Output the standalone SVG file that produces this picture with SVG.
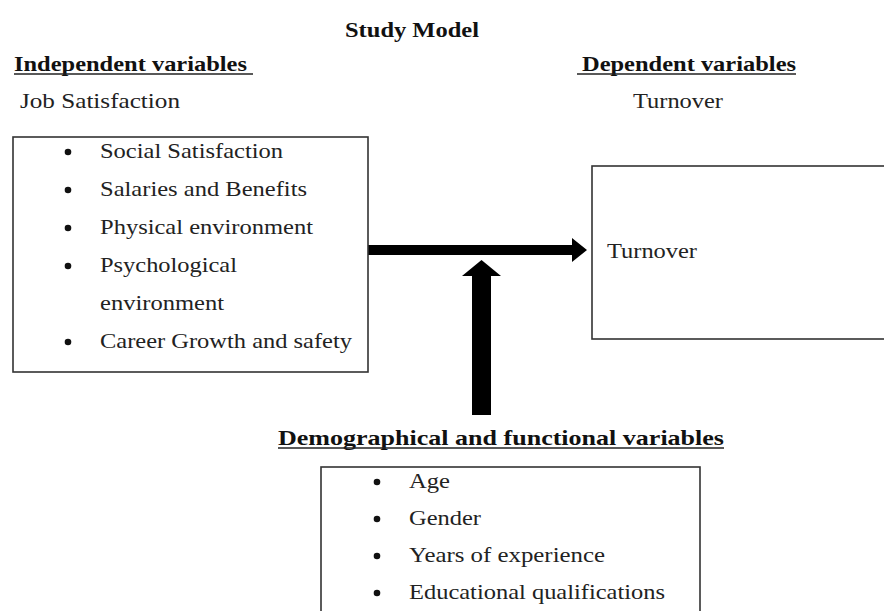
<svg xmlns="http://www.w3.org/2000/svg" width="884" height="611" viewBox="0 0 884 611">
<style>
.t{font-family:"Liberation Serif","Times New Roman",serif;font-size:21px;fill:#222}
.b{font-weight:bold;fill:#111}
.box{fill:#fff;stroke:#333;stroke-width:1.6}
.ul{stroke:#222;stroke-width:1.4}
.dot{fill:#111}
.arrow{fill:#000}
</style>
<rect width="884" height="611" fill="#fff"/>
<g id="headings">
<text class="t b" x="345" y="37" textLength="134" lengthAdjust="spacingAndGlyphs">Study Model</text>
<text class="t b" x="14" y="71" textLength="233" lengthAdjust="spacingAndGlyphs">Independent variables</text>
<line class="ul" x1="14" y1="74" x2="253" y2="74"/>
<text class="t b" x="582" y="71" textLength="214" lengthAdjust="spacingAndGlyphs">Dependent variables</text>
<line class="ul" x1="577" y1="74" x2="796" y2="74"/>
<text class="t" x="20" y="108" textLength="160" lengthAdjust="spacingAndGlyphs">Job Satisfaction</text>
<text class="t" x="633" y="108" textLength="90" lengthAdjust="spacingAndGlyphs">Turnover</text>
<text class="t b" x="278" y="445" textLength="446" lengthAdjust="spacingAndGlyphs">Demographical and functional variables</text>
<line class="ul" x1="278" y1="448" x2="724" y2="448"/>
</g>
<g id="connectors">
<polygon class="arrow" points="368,245 572,245 572,238 587,250 572,262 572,255 368,255"/>
<polygon class="arrow" points="472,415 472,276 462,276 481.5,260 501,276 491,276 491,415"/>
</g>
<g id="independent">
<rect class="box" x="13" y="137" width="355" height="235"/>
<circle class="dot" cx="68" cy="152" r="3.3"/>
<text class="t" x="100" y="158" textLength="183" lengthAdjust="spacingAndGlyphs">Social Satisfaction</text>
<circle class="dot" cx="68" cy="190" r="3.3"/>
<text class="t" x="100" y="196" textLength="207" lengthAdjust="spacingAndGlyphs">Salaries and Benefits</text>
<circle class="dot" cx="68" cy="228" r="3.3"/>
<text class="t" x="100" y="234" textLength="213" lengthAdjust="spacingAndGlyphs">Physical environment</text>
<circle class="dot" cx="68" cy="266" r="3.3"/>
<text class="t" x="100" y="272" textLength="137" lengthAdjust="spacingAndGlyphs">Psychological</text>
<text class="t" x="100" y="310" textLength="124" lengthAdjust="spacingAndGlyphs">environment</text>
<circle class="dot" cx="68" cy="342" r="3.3"/>
<text class="t" x="100" y="348" textLength="252" lengthAdjust="spacingAndGlyphs">Career Growth and safety</text>
</g>
<g id="dependent">
<rect class="box" x="592" y="166" width="310" height="173"/>
<text class="t" x="607" y="258" textLength="90" lengthAdjust="spacingAndGlyphs">Turnover</text>
</g>
<g id="demographic">
<rect class="box" x="321" y="467" width="379" height="170"/>
<circle class="dot" cx="377" cy="482" r="3.3"/>
<text class="t" x="409" y="488" textLength="41" lengthAdjust="spacingAndGlyphs">Age</text>
<circle class="dot" cx="377" cy="519" r="3.3"/>
<text class="t" x="409" y="525" textLength="72" lengthAdjust="spacingAndGlyphs">Gender</text>
<circle class="dot" cx="377" cy="556" r="3.3"/>
<text class="t" x="409" y="562" textLength="196" lengthAdjust="spacingAndGlyphs">Years of experience</text>
<circle class="dot" cx="377" cy="593" r="3.3"/>
<text class="t" x="409" y="599" textLength="256" lengthAdjust="spacingAndGlyphs">Educational qualifications</text>
</g>
</svg>
